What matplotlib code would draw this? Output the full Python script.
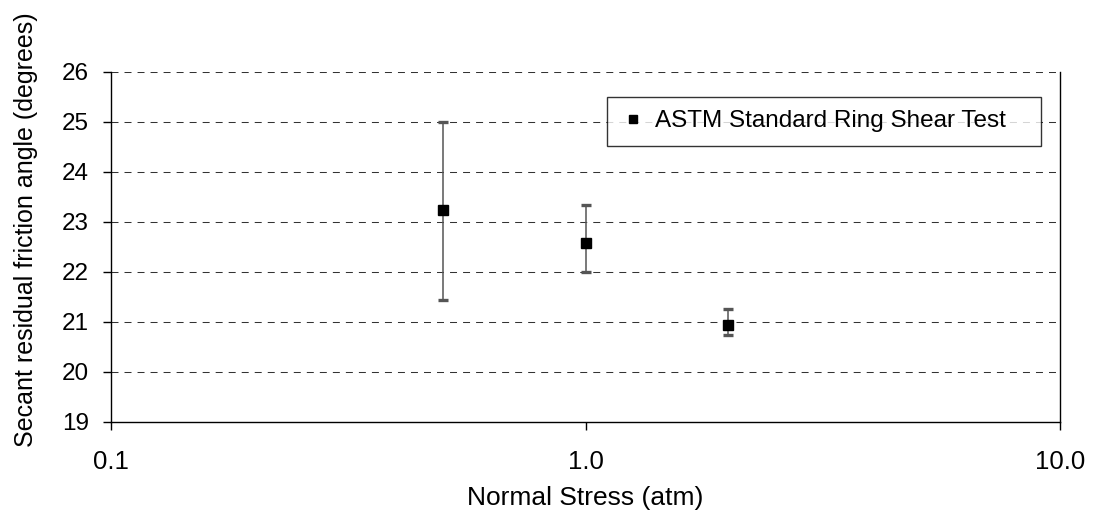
import matplotlib.pyplot as plt
from matplotlib.ticker import FixedLocator, FixedFormatter, NullLocator

plt.rcParams['font.family'] = ['Liberation Sans', 'DejaVu Sans']

# ring shear results
stress = [0.5, 1.0, 2.0]
angle = [23.24, 22.57, 20.93]
err_low = [21.44, 22.0, 20.73]
err_high = [25.0, 23.33, 21.25]

yerr = [[a - lo for a, lo in zip(angle, err_low)],
        [hi - a for a, hi in zip(angle, err_high)]]

x_ticks = [0.1, 1.0, 10.0]
x_labels = ['0.1', '1.0', '10.0']
y_ticks = [19, 20, 21, 22, 23, 24, 25, 26]

fig = plt.figure(figsize=(10.93, 5.22), dpi=100)
ax = fig.add_axes([0.1016, 0.1916, 0.8682, 0.6705])

ax.set_xscale('log')
ax.set_xlim(0.1, 10)
ax.set_ylim(19, 26)

for y in y_ticks[1:]:
    ax.axhline(y, color='#333333', lw=0.75, dashes=(6.7, 5.8), zorder=1)

ax.errorbar(stress, angle, yerr=yerr, fmt='none', ecolor='#555555',
            elinewidth=1.1, capsize=3.6, capthick=2.4, zorder=2)
ax.plot(stress, angle, 's', color='black', ms=7.5, ls='none', zorder=3,
        label='ASTM Standard Ring Shear Test')

ax.xaxis.set_major_locator(FixedLocator(x_ticks))
ax.xaxis.set_major_formatter(FixedFormatter(x_labels))
ax.xaxis.set_minor_locator(NullLocator())
ax.set_yticks(y_ticks)

ax.spines['top'].set_visible(False)
for s in ['left', 'bottom', 'right']:
    ax.spines[s].set_linewidth(1.0)
ax.tick_params(axis='both', direction='out', length=6, width=1, color='black')
ax.tick_params(axis='x', pad=14, labelsize=18.5)
ax.tick_params(axis='y', pad=10, labelsize=17.5)

ax.set_xlabel('Normal Stress (atm)', fontsize=19, labelpad=9)
ax.set_ylabel('Secant residual friction angle (degrees)', fontsize=18,
              labelpad=17)
ax.yaxis.label.set_y(0.549)

leg = ax.legend(loc='upper left', bbox_to_anchor=(0.5227, 0.8286, 0.4573, 0.1),
                mode='expand', borderaxespad=0, fontsize=17.5, fancybox=False,
                frameon=True, edgecolor='black', handlelength=1.0,
                handletextpad=0.42, borderpad=0.55, markerscale=0.75)
leg.get_frame().set_linewidth(1.0)

fig.savefig('out.png', dpi=100)
